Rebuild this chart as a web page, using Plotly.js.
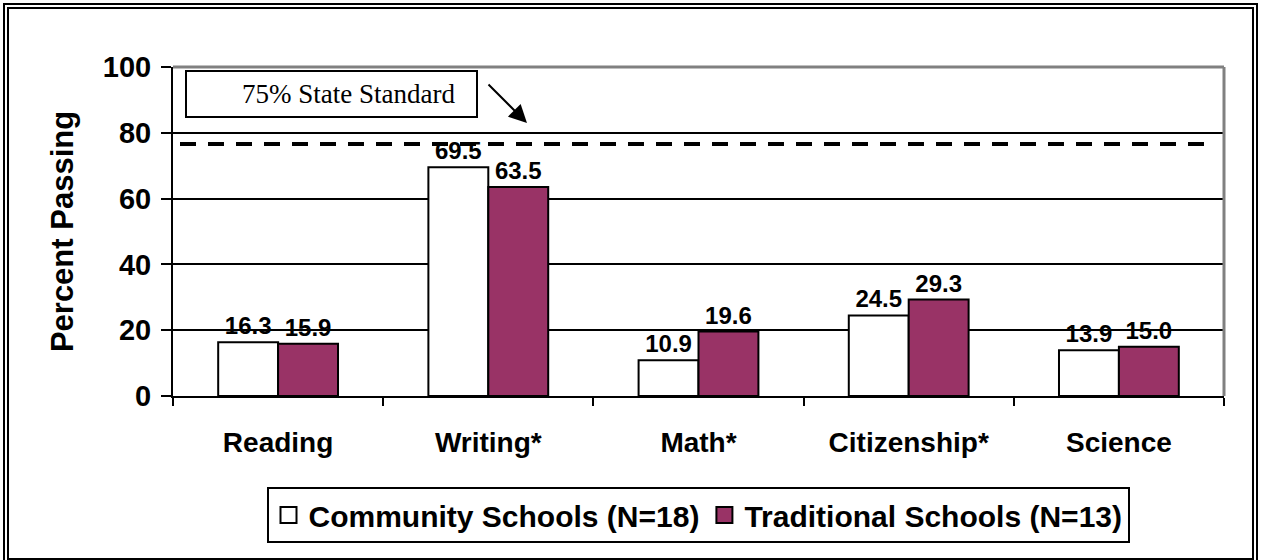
<!DOCTYPE html>
<html>
<head>
<meta charset="utf-8">
<script src="https://cdn.plot.ly/plotly-3.0.1.min.js"></script>
<style>
  html, body { margin: 0; padding: 0; background: #ffffff; }
  #chart { width: 1261px; height: 560px; }
</style>
</head>
<body>
<div id="chart"></div>
<script>
// ---- data ----
const categories = ["Reading", "Writing*", "Math*", "Citizenship*", "Science"];
const communityValues = [16.3, 69.5, 10.9, 24.5, 13.9];
const traditionalValues = [15.9, 63.5, 19.6, 29.3, 15.0];
const seriesNames = ["Community Schools (N=18)", "Traditional Schools (N=13)"];
const yTickValues = [0, 20, 40, 60, 80, 100];
const standardLineValue = 76.6;
const standardLabel = "75% State Standard";

// ---- layout geometry (pixels) ----
const W = 1261, H = 560;
const M = { l: 173, r: 37, t: 67, b: 164 };
const plotW = W - M.l - M.r, plotH = H - M.t - M.b;
const px = v => (v - M.l) / plotW;          // pixel x -> paper x
const py = v => (H - M.b - v) / plotH;      // pixel y -> paper y

const FONT = "Liberation Sans, Arial, Helvetica, sans-serif";
const SERIF = "Liberation Serif, Times New Roman, serif";
const purple = "#993366";
const seriesColors = ["#ffffff", purple];

const labelFont = { family: FONT, size: 24, color: "#000", weight: "bold" };

const valueSets = [communityValues, traditionalValues];
const traces = valueSets.map((vals, i) => ({
  type: "bar", name: seriesNames[i], x: categories, y: vals,
  marker: { color: seriesColors[i], line: { color: "#000000", width: 2 } },
  text: vals.map(v => v.toFixed(1)), textposition: "outside",
  textfont: labelFont, cliponaxis: false, hoverinfo: "skip", showlegend: false
}));
// legend entries (larger square swatches like the original)
seriesNames.forEach((nm, i) => traces.push({
  type: "scatter", mode: "markers", name: nm, x: [null], y: [null],
  marker: { symbol: "square", size: 16, color: seriesColors[i], line: { color: "#000", width: 2 } },
  hoverinfo: "skip", showlegend: true
}));

const layout = {
  width: W, height: H,
  margin: M,
  paper_bgcolor: "#ffffff", plot_bgcolor: "#ffffff",
  barmode: "group", bargap: 0.43, bargroupgap: 0,
  showlegend: true,
  font: { family: FONT, color: "#000" },
  xaxis: {
    type: "category", categoryorder: "array", categoryarray: categories,
    range: [-0.5, categories.length - 0.5],
    showline: true, linecolor: "#000", linewidth: 2,
    ticks: "outside", tickson: "boundaries", ticklen: 8, tickwidth: 2, tickcolor: "#000",
    tickfont: { family: FONT, size: 28, color: "#000", weight: "bold" },
    ticklabelstandoff: 20,
    showgrid: false, zeroline: false, automargin: false, fixedrange: true
  },
  yaxis: {
    range: [0, 100], tickvals: yTickValues,
    showline: true, linecolor: "#000", linewidth: 2,
    ticks: "outside", ticklen: 10, tickwidth: 2, tickcolor: "#000",
    tickfont: { family: FONT, size: 29, color: "#000", weight: "bold" },
    ticklabelstandoff: 4,
    showgrid: true, gridcolor: "#000", gridwidth: 2,
    zeroline: false, automargin: false, fixedrange: true,
    title: { text: "Percent Passing", font: { family: FONT, size: 31, color: "#000", weight: "bold" }, standoff: 20 }
  },
  legend: {
    orientation: "h", x: px(698), xanchor: "center", y: py(487), yanchor: "top",
    bordercolor: "#000", borderwidth: 2, bgcolor: "#fff",
    font: { family: FONT, size: 30, color: "#000", weight: "bold" },
    itemwidth: 30, tracegroupgap: 0
  },
  shapes: [
    // outer double frame
    { type: "rect", xref: "paper", yref: "paper", x0: px(4), x1: px(1257), y0: py(563), y1: py(4),
      line: { color: "#000", width: 2 }, fillcolor: "rgba(0,0,0,0)", layer: "below" },
    { type: "rect", xref: "paper", yref: "paper", x0: px(8), x1: px(1253), y0: py(559), y1: py(8),
      line: { color: "#000", width: 2 }, fillcolor: "rgba(0,0,0,0)", layer: "below" },
    // gray top / right plot border
    { type: "line", xref: "paper", yref: "paper", x0: 0, x1: 1, y0: 1, y1: 1,
      line: { color: "#808080", width: 3 }, layer: "above" },
    { type: "line", xref: "paper", yref: "paper", x0: 1, x1: 1, y0: 0, y1: 1,
      line: { color: "#808080", width: 3 }, layer: "above" },
    // state standard dashed line
    { type: "line", xref: "paper", yref: "y", x0: px(180), x1: px(1205),
      y0: standardLineValue, y1: standardLineValue,
      line: { color: "#000", width: 4, dash: "16px,12px" }, layer: "above" },
    // label box
    { type: "rect", xref: "paper", yref: "paper", x0: px(186), x1: px(477), y0: py(117), y1: py(71),
      line: { color: "#000", width: 2 }, fillcolor: "#fff", layer: "above" }
  ],
  annotations: [
    { xref: "paper", yref: "paper", x: px(457), y: py(94), xanchor: "right", yanchor: "middle",
      text: standardLabel, showarrow: false,
      font: { family: SERIF, size: 27, color: "#000" } },
    { xref: "paper", yref: "paper", x: px(527), y: py(123), text: "",
      showarrow: true, axref: "pixel", ayref: "pixel", ax: -40, ay: -40,
      arrowhead: 2, arrowsize: 1.8, arrowwidth: 2, arrowcolor: "#000" }
  ]
};

Plotly.newPlot("chart", traces, layout, { staticPlot: true, displayModeBar: false });
</script>
</body>
</html>
